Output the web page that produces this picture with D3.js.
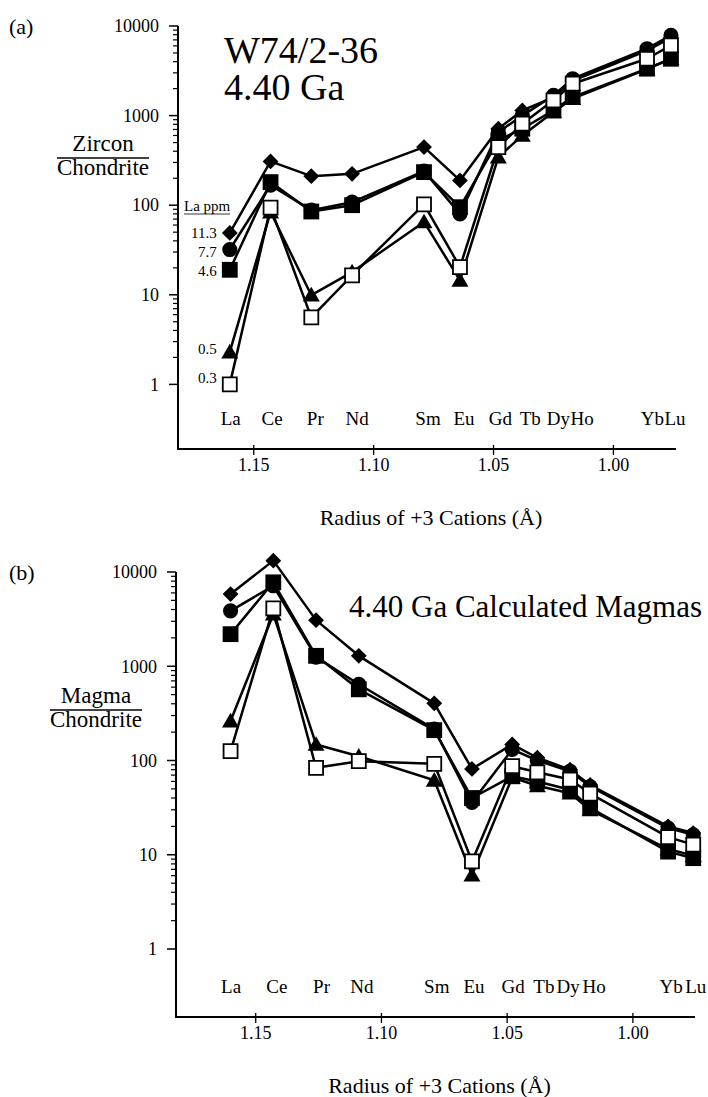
<!DOCTYPE html>
<html>
<head>
<meta charset="utf-8">
<script src="https://cdn.jsdelivr.net/npm/d3@7"></script>
<style>
  body { margin: 0; background: #fff; }
  svg, svg text { font-family: "Liberation Serif", "Times New Roman", Times, serif; }
</style>
</head>
<body>
<svg id="chart" width="708" height="1097"></svg>
<script>
// REE, plotted against ionic radius (Å)
const elements = ['La', 'Ce', 'Pr', 'Nd', 'Sm', 'Eu', 'Gd', 'Tb', 'Dy', 'Ho', 'Yb', 'Lu'];
const radius = [1.160, 1.143, 1.126, 1.109, 1.079, 1.064, 1.048, 1.038, 1.025, 1.017, 0.986, 0.976];

const xTicks = [1.15, 1.10, 1.05, 1.00];
const yTicks = [1, 10, 100, 1000, 10000];
const laPpm = ['11.3', '7.7', '4.6', '0.5', '0.3'];

// (a) zircon / chondrite
const zrDiamond = [49, 308, 211, 224, 445, 189, 714, 1143, 1600, 2450, 5300, 7400];
const zrCircle = [32, 167, 88, 108, 240, 80, 655, 1000, 1680, 2580, 5580, 7860];
const zrSquare = [19, 181, 85, 100, 234, 95, 528, 714, 1143, 1610, 3340, 4310];
const zrTriangle = [2.3, 84, 9.9, 17.9, 65, 14.5, 344, 601, 1100, 1550, 3300, 4300];
const zrOpen = [1.0, 94, 5.6, 16.5, 102, 20.4, 445, 812, 1480, 2270, 4310, 6070];

// (b) calculated magma / chondrite
const mgDiamond = [5830, 13200, 3085, 1290, 404, 81.5, 148, 107, 80, 55, 20, 17];
const mgCircle = [3870, 7140, 1250, 644, 215, 36, 131, 100, 77, 53, 19.2, 16.3];
const mgSquare = [2190, 7770, 1290, 569, 210, 40, 68, 60, 49, 31.4, 10.8, 9.2];
const mgTriangle = [262, 3570, 148, 111, 61.7, 6.1, 66, 54, 45, 30, 11.5, 9.8];
const mgOpen = [126, 4110, 83.6, 98.4, 92.3, 8.5, 87, 75, 62.8, 44.6, 15.4, 12.8];

const svg = d3.select('#chart');
svg.append('rect').attr('width', 708).attr('height', 1097).attr('fill', '#fff');

const markers = [
  { key: 'diamond', type: d3.symbolSquare, size: 125, rotate: 45, fill: '#000' },
  { key: 'circle', type: d3.symbolCircle, size: 180, rotate: 0, fill: '#000' },
  { key: 'triangle', type: d3.symbolTriangle, size: 125, rotate: 0, fill: '#000' },
  { key: 'square', type: d3.symbolSquare, size: 250, rotate: 0, fill: '#000' },
  { key: 'open', type: d3.symbolSquare, size: 196, rotate: 0, fill: '#fff' },
];

function drawPanel(cfg) {
  const g = svg.append('g');

  const x = d3.scaleLinear().domain(cfg.xDomain).range([cfg.left, cfg.right]);
  const y = d3.scaleLog().domain([0.19, 10000]).range([cfg.bottom, cfg.top]);

  // y axis: major ticks + minor ticks
  const minor = [];
  for (let p = 0; p < 4; p++) for (let k = 2; k < 10; k++) minor.push(k * Math.pow(10, p));
  g.selectAll('.minor')
    .data(minor)
    .join('line')
    .attr('x1', cfg.left - 5).attr('x2', cfg.left)
    .attr('y1', (d) => y(d)).attr('y2', (d) => y(d))
    .attr('stroke', '#000').attr('stroke-width', 1.2);

  g.selectAll('.major')
    .data(yTicks)
    .join('line')
    .attr('x1', cfg.left - 9).attr('x2', cfg.left)
    .attr('y1', (d) => y(d)).attr('y2', (d) => y(d))
    .attr('stroke', '#000').attr('stroke-width', 1.5);

  g.selectAll('.ylab')
    .data(yTicks)
    .join('text')
    .attr('x', cfg.left - 19)
    .attr('y', (d) => y(d))
    .attr('dy', '0.35em')
    .attr('text-anchor', 'end')
    .attr('font-size', 18)
    .text((d) => d);

  // axis lines
  g.append('path')
    .attr('d', `M${cfg.left},${cfg.top}V${cfg.bottom}H${cfg.right}`)
    .attr('fill', 'none').attr('stroke', '#000').attr('stroke-width', 2);

  // x ticks cross the axis line
  g.selectAll('.xtick')
    .data(xTicks)
    .join('line')
    .attr('x1', (d) => x(d)).attr('x2', (d) => x(d))
    .attr('y1', cfg.bottom - 4).attr('y2', cfg.bottom + 6)
    .attr('stroke', '#000').attr('stroke-width', 1.3);

  g.selectAll('.xlab')
    .data(xTicks)
    .join('text')
    .attr('x', (d) => x(d))
    .attr('y', cfg.bottom + 16)
    .attr('dy', '0.35em')
    .attr('text-anchor', 'middle')
    .attr('font-size', 18)
    .text((d) => d3.format('.2f')(d));

  g.append('text')
    .attr('x', (cfg.left + cfg.right) / 2 + 4)
    .attr('y', cfg.bottom + 68)
    .attr('dy', '0.35em')
    .attr('text-anchor', 'middle')
    .attr('font-size', 22)
    .text('Radius of +3 Cations (Å)');

  // element names inside the plot (nudged like the hand-set originals)
  g.selectAll('.el')
    .data(elements)
    .join('text')
    .attr('x', (d, i) => x(radius[i]) + cfg.labelDx[i])
    .attr('y', cfg.bottom - 31)
    .attr('dy', '0.35em')
    .attr('text-anchor', 'middle')
    .attr('font-size', 19)
    .text((d) => d);

  // lines first, then the markers on top
  const line = d3.line().x((d, i) => x(radius[i])).y((d) => y(d));
  markers.forEach((m) => {
    g.append('path')
      .attr('d', line(cfg.series[m.key]))
      .attr('fill', 'none')
      .attr('stroke', '#000')
      .attr('stroke-width', 2.5)
      .attr('stroke-linejoin', 'round');
  });

  markers.forEach((m) => {
    const sym = d3.symbol().type(m.type).size(m.size);
    g.append('g')
      .selectAll('path')
      .data(cfg.series[m.key])
      .join('path')
      .attr('d', sym)
      .attr('transform', (d, i) => {
        let dyTri = m.type === d3.symbolTriangle ? 1.5 : 0;
        return `translate(${x(radius[i])},${y(d) + dyTri}) rotate(${m.rotate})`;
      })
      .attr('fill', m.fill)
      .attr('stroke', '#000')
      .attr('stroke-width', m.key === 'open' ? 1.8 : 0);
  });

  // y title as a fraction
  g.append('text')
    .attr('x', cfg.fracX).attr('y', cfg.fracY - 7)
    .attr('text-anchor', 'middle').attr('font-size', 23)
    .text(cfg.numerator);
  g.append('line')
    .attr('x1', cfg.fracX - 46).attr('x2', cfg.fracX + 46)
    .attr('y1', cfg.fracY).attr('y2', cfg.fracY)
    .attr('stroke', '#000').attr('stroke-width', 1.3);
  g.append('text')
    .attr('x', cfg.fracX).attr('y', cfg.fracY + 17)
    .attr('text-anchor', 'middle').attr('font-size', 23)
    .text('Chondrite');

  g.append('text')
    .attr('x', 9).attr('y', cfg.top + 8)
    .attr('font-size', 22)
    .text(cfg.tag);

  return { g, x, y };
}

// ---- panel (a)
const a = drawPanel({
  left: 178, right: 676, top: 26, bottom: 449,
  xDomain: [1.1816, 0.9739],
  series: { diamond: zrDiamond, circle: zrCircle, triangle: zrTriangle, square: zrSquare, open: zrOpen },
  labelDx: [1, 1.5, 4, 5, 4, 4, 2, 8, 5, 9.5, 5.5, 4],
  numerator: 'Zircon', fracX: 103, fracY: 158,
  tag: '(a)',
});

a.g.append('text').attr('x', 224).attr('y', 63).attr('font-size', 38).text('W74/2-36');
a.g.append('text').attr('x', 224).attr('y', 100).attr('font-size', 38).text('4.40 Ga');

// La ppm legend next to the La points
a.g.append('text').attr('x', 184).attr('y', 211).attr('font-size', 15).text('La ppm');
a.g.append('line').attr('x1', 184).attr('x2', 230).attr('y1', 214).attr('y2', 214)
  .attr('stroke', '#000').attr('stroke-width', 0.8);

const laFirst = [zrDiamond[0], zrCircle[0], zrSquare[0], zrTriangle[0], zrOpen[0]];
const laShift = [0, 2, 1, -3, -7];
a.g.selectAll('.ppm')
  .data(laPpm)
  .join('text')
  .attr('x', a.x(radius[0]) - 13)
  .attr('y', (d, i) => a.y(laFirst[i]) + laShift[i])
  .attr('dy', '0.35em')
  .attr('text-anchor', 'end')
  .attr('font-size', 15)
  .text((d) => d);

// ---- panel (b)
const b = drawPanel({
  left: 176, right: 695, top: 572, bottom: 1017,
  xDomain: [1.1817, 0.9753],
  series: { diamond: mgDiamond, circle: mgCircle, triangle: mgTriangle, square: mgSquare, open: mgOpen },
  labelDx: [0.5, 3.5, 5.5, 3, 2.5, 2, 1, 6.5, -2, 4, 3, 2.5],
  numerator: 'Magma', fracX: 96, fracY: 710,
  tag: '(b)',
});

b.g.append('text').attr('x', 349).attr('y', 617).attr('font-size', 31).text('4.40 Ga Calculated Magmas');
</script>
</body>
</html>
